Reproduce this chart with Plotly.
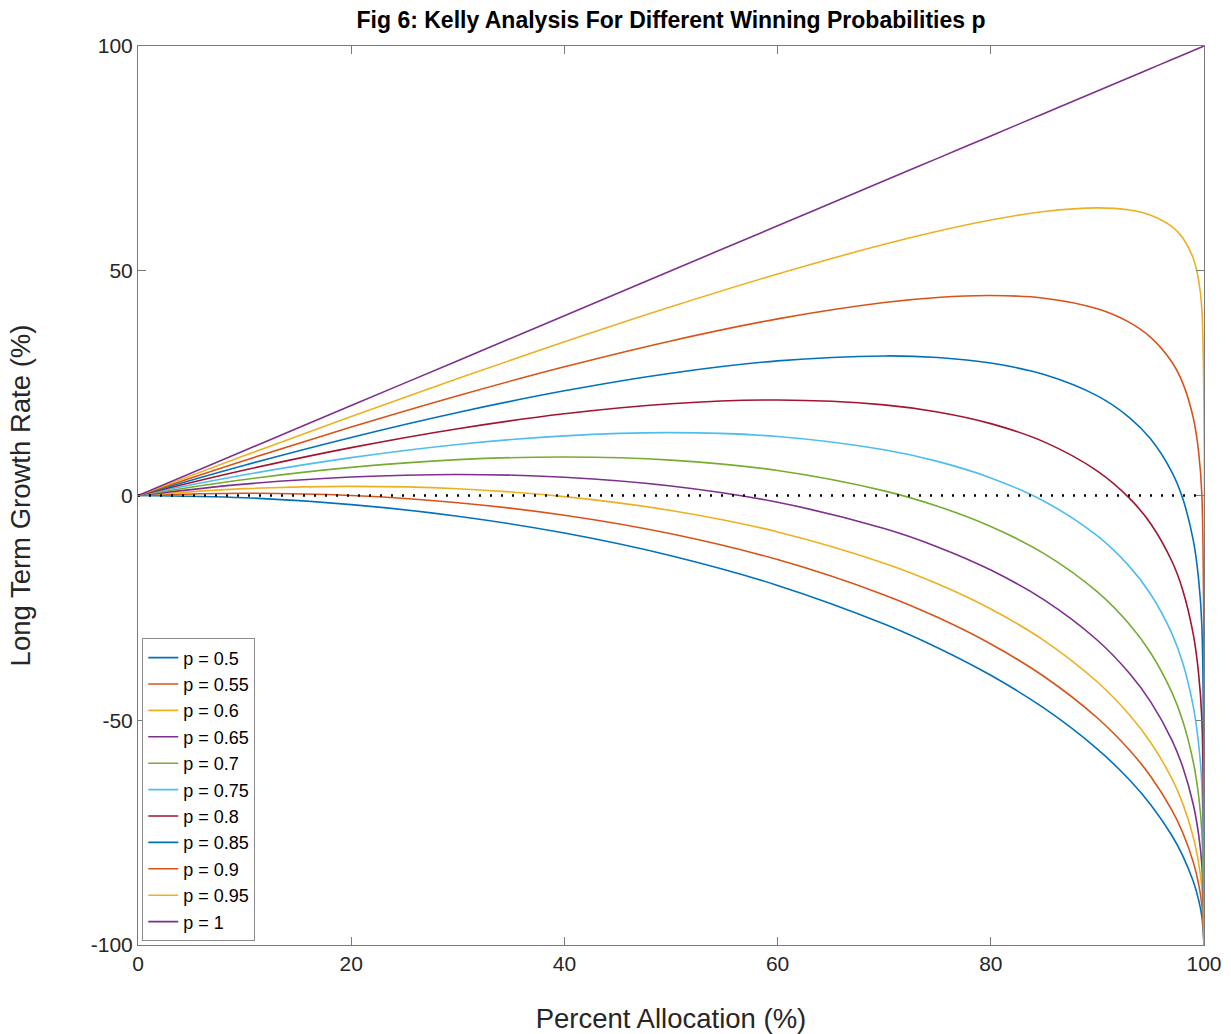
import plotly.graph_objects as go

# Percent allocation (x) at which each growth curve is sampled
allocation = [0, 10, 20, 30, 40, 50, 60, 70, 75, 80, 85, 90, 93, 95, 97, 98, 99, 99.5, 99.8, 100]

# Long term growth rate (%) for each winning probability p
g_p050 = [0, -0.50, -2.02, -4.61, -8.35, -13.40, -20.00, -28.59, -33.86, -40.00, -47.32, -56.41, -63.24, -68.78, -75.69, -80.10, -85.89, -90.01, -93.68, -100]
g_p055 = [0, 0.50, -0.01, -1.61, -4.38, -8.51, -14.26, -22.11, -27.10, -33.03, -40.27, -49.50, -56.61, -62.50, -70.03, -74.96, -81.62, -86.53, -91.07, -100]
g_p060 = [0, 1.52, 2.03, 1.49, -0.24, -3.34, -8.10, -15.06, -19.65, -25.26, -32.27, -41.49, -48.79, -54.96, -63.06, -68.49, -76.05, -81.82, -87.39, -100]
g_p065 = [0, 2.54, 4.12, 4.68, 4.07, 2.12, -1.51, -7.36, -11.44, -16.58, -23.21, -32.20, -39.55, -45.91, -54.46, -60.36, -68.79, -75.48, -82.19, -100]
g_p070 = [0, 3.57, 6.26, 7.97, 8.58, 7.88, 5.56, 1.03, -2.39, -6.89, -12.93, -21.45, -28.65, -35.03, -43.86, -50.11, -59.34, -66.91, -74.84, -100]
g_p075 = [0, 4.62, 8.43, 11.36, 13.27, 13.98, 13.14, 10.18, 7.59, 3.92, -1.28, -9.00, -15.77, -21.97, -30.80, -37.23, -47.02, -55.36, -64.46, -100]
g_p080 = [0, 5.67, 10.65, 14.86, 18.18, 20.41, 21.26, 20.17, 18.58, 15.99, 11.93, 5.44, -0.58, -6.28, -14.69, -21.01, -30.97, -39.78, -49.80, -100]
g_p085 = [0, 6.74, 12.92, 18.47, 23.29, 27.21, 29.96, 31.05, 30.70, 29.46, 26.91, 22.16, 17.35, 12.56, 5.16, -0.62, -10.05, -18.76, -29.10, -100]
g_p090 = [0, 7.81, 15.23, 22.20, 28.63, 34.39, 39.29, 42.93, 44.05, 44.49, 43.90, 41.54, 38.52, 35.18, 29.64, 25.05, 17.21, 9.61, 0.15, -100]
g_p095 = [0, 8.90, 17.59, 26.04, 34.19, 41.98, 49.28, 55.88, 58.78, 61.28, 63.17, 63.99, 63.51, 62.36, 59.81, 57.35, 52.73, 47.87, 41.45, -100]
g_p100 = [0, 10, 20, 30, 40, 50, 60, 70, 75, 80, 85, 90, 93, 95, 97, 98, 99, 99.5, 99.8, 100]

labels = ["p = 0.5", "p = 0.55", "p = 0.6", "p = 0.65", "p = 0.7", "p = 0.75",
          "p = 0.8", "p = 0.85", "p = 0.9", "p = 0.95", "p = 1"]
series = [g_p050, g_p055, g_p060, g_p065, g_p070, g_p075,
          g_p080, g_p085, g_p090, g_p095, g_p100]

# Default MATLAB line colour order (cycles after seven)
palette = ["#0072BD", "#D95319", "#EDB120", "#7E2F8E", "#77AC30", "#4DBEEE", "#A2142F"]

x_ticks = [0, 20, 40, 60, 80, 100]
y_ticks = [-100, -50, 0, 50, 100]

FONT = "Liberation Sans, Arial, Helvetica, sans-serif"

fig = go.Figure()
for i, (name, vals) in enumerate(zip(labels, series)):
    fig.add_trace(go.Scatter(
        x=allocation, y=vals, mode="lines", name=name,
        line=dict(color=palette[i % len(palette)], width=1.6,
                  shape="spline", smoothing=1.0),
    ))

# Zero-growth reference line
fig.add_trace(go.Scatter(
    x=[0, 100], y=[0, 0], mode="lines", showlegend=False, hoverinfo="skip",
    line=dict(color="black", width=2.3, dash="2px,9px"),
))

axis_common = dict(
    showgrid=False, zeroline=False, showline=True, mirror="ticks",
    linecolor="#7a7a7a", linewidth=1, ticks="inside", ticklen=8,
    tickcolor="#7a7a7a", tickwidth=1, automargin=False,
    tickfont=dict(family=FONT, size=21, color="#262626"),
)

fig.update_layout(
    width=1231, height=1034,
    margin=dict(l=138, r=27, t=46, b=89),
    paper_bgcolor="white", plot_bgcolor="white",
    title=dict(
        text="<b>Fig 6: Kelly Analysis For Different Winning Probabilities p</b>",
        x=671 / 1231, xanchor="center", y=1 - 20 / 1034, yanchor="middle",
        font=dict(family=FONT, size=23, color="black"),
    ),
    xaxis=dict(
        range=[0, 100], tickvals=x_ticks, ticktext=[str(v) for v in x_ticks],
        title=dict(text="Percent Allocation (%)", standoff=36,
                   font=dict(family=FONT, size=27.5, color="#262626")),
        **axis_common,
    ),
    yaxis=dict(
        range=[-100, 100], tickvals=y_ticks, ticktext=[str(v) for v in y_ticks],
        title=dict(text="Long Term Growth Rate (%)", standoff=52,
                   font=dict(family=FONT, size=27.5, color="#262626")),
        **axis_common,
    ),
    legend=dict(
        x=0.004, y=0.004, xanchor="left", yanchor="bottom",
        bgcolor="white", bordercolor="#8a8a8a", borderwidth=1,
        font=dict(family=FONT, size=18, color="black"),
        tracegroupgap=0, itemwidth=30,
    ),
    showlegend=True,
)

fig.write_html("out.html")
